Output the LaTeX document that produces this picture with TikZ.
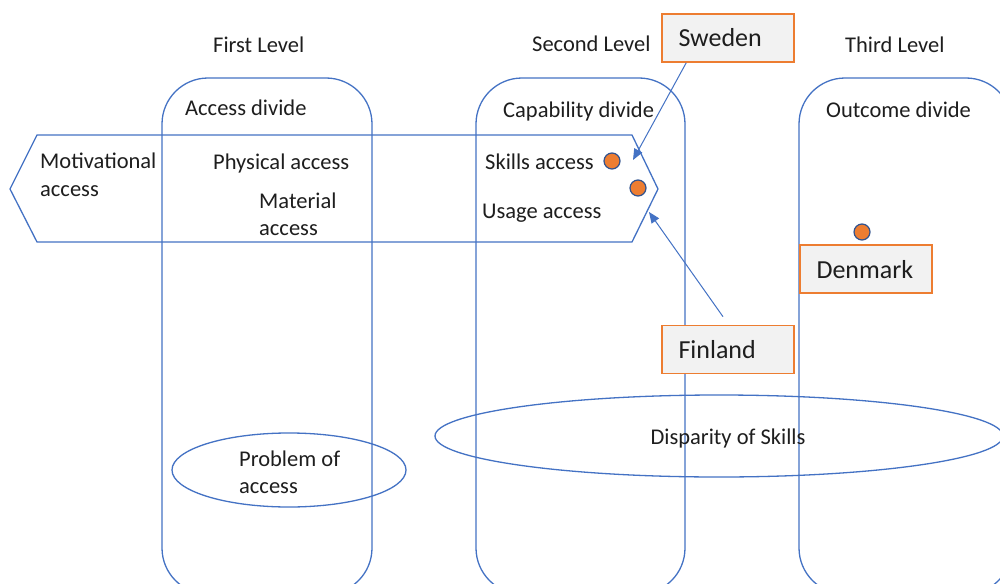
\documentclass[tikz,border=0pt]{standalone}
\usepackage{fontspec}
\setmainfont{Carlito}
\usetikzlibrary{shapes.geometric,arrows.meta,calc}
\definecolor{lineblue}{HTML}{4472C4}
\definecolor{dotedge}{HTML}{2F528F}
\definecolor{accent}{HTML}{ED7D31}
\definecolor{boxfill}{HTML}{F2F2F2}
\definecolor{ink}{HTML}{1E1E1E}
\begin{document}
\begin{tikzpicture}[x=1pt,y=-1pt,
  outline/.style={draw=lineblue,line width=1.3pt},
  column/.style={outline,rounded corners=46pt},
  lbl/.style={anchor=base west,inner sep=0pt,yshift=-1.5pt,text=ink,font=\fontsize{22.5}{27}\selectfont},
  country/.style={draw=accent,line width=1.6pt,fill=boxfill,minimum width=132pt,minimum height=48pt,
    inner xsep=16.5pt,text width=99pt,align=left,text height=18pt,text depth=0pt,
    text=ink,font=\fontsize{26}{30}\selectfont},
  dot/.style={circle,fill=accent,draw=dotedge,line width=1.2pt,minimum size=16pt,inner sep=0pt},
  pointer/.style={draw=lineblue,line width=1pt,-{Triangle[length=11pt,width=9pt]}},
  ring/.style={ellipse,outline,inner sep=0pt}]
\useasboundingbox (0,0) rectangle (1000,583);
\clip (0,0) rectangle (1000,583);
\fill[white] (0,0) rectangle (1000,583);

% three level columns
\draw[column] (162,78) rectangle (372,594);
\draw[column] (476,78) rectangle (685,594);
\draw[column] (799,78) rectangle (1012,594);

% access chevron
\draw[outline] (10,189) -- (37,135) -- (632,135) -- (658,189) -- (632,242) -- (37,242) -- cycle;

% ellipses
\node[ring,minimum width=234pt,minimum height=74pt] (problem) at (289,470) {};
\node[ring,minimum width=568pt,minimum height=82pt] (disparity) at (719,436) {};

% headings
\node[lbl] (lv1) at (213,51) {First Level};
\node[lbl] (lv2) at (532,50) {Second Level};
\node[lbl] (lv3) at (845,51) {Third Level};
\node[lbl] (dv1) at (185,114) {Access divide};
\node[lbl] (dv2) at (503,116) {Capability divide};
\node[lbl] (dv3) at (826,116) {Outcome divide};

% access kinds
\node[lbl] (mot1) at (40,167) {Motivational};
\node[lbl] (mot2) at (40,195) {access};
\node[lbl] (phys) at (213,168) {Physical access};
\node[lbl] (mat1) at (259,207) {Material};
\node[lbl] (mat2) at (259,234) {access};
\node[lbl] (skill) at (485,168) {Skills access};
\node[lbl] (usage) at (482,217) {Usage access};
\node[lbl] (prob1) at (239,465) {Problem of};
\node[lbl] (prob2) at (239,492) {access};
\node[lbl,anchor=base] (disp) at (728,443) {Disparity of Skills};

% country markers
\node[dot] (d1) at (612,161) {};
\node[dot] (d2) at (638,188) {};
\node[dot] (d3) at (862,232) {};

% country boxes
\node[country] (sweden) at (728,38) {Sweden};
\node[country] (denmark) at (866,269) {Denmark};
\node[country] (finland) at (728,349.5) {Finland};

% pointers
\coordinate (swtip) at (633,160);
\coordinate (fitip) at (649,212);
\draw[pointer] ($(sweden.south west)+(25,0)$) -- (swtip);
\draw[pointer] ($(finland.north)+(-5,-8)$) -- (fitip);
\end{tikzpicture}
\end{document}
